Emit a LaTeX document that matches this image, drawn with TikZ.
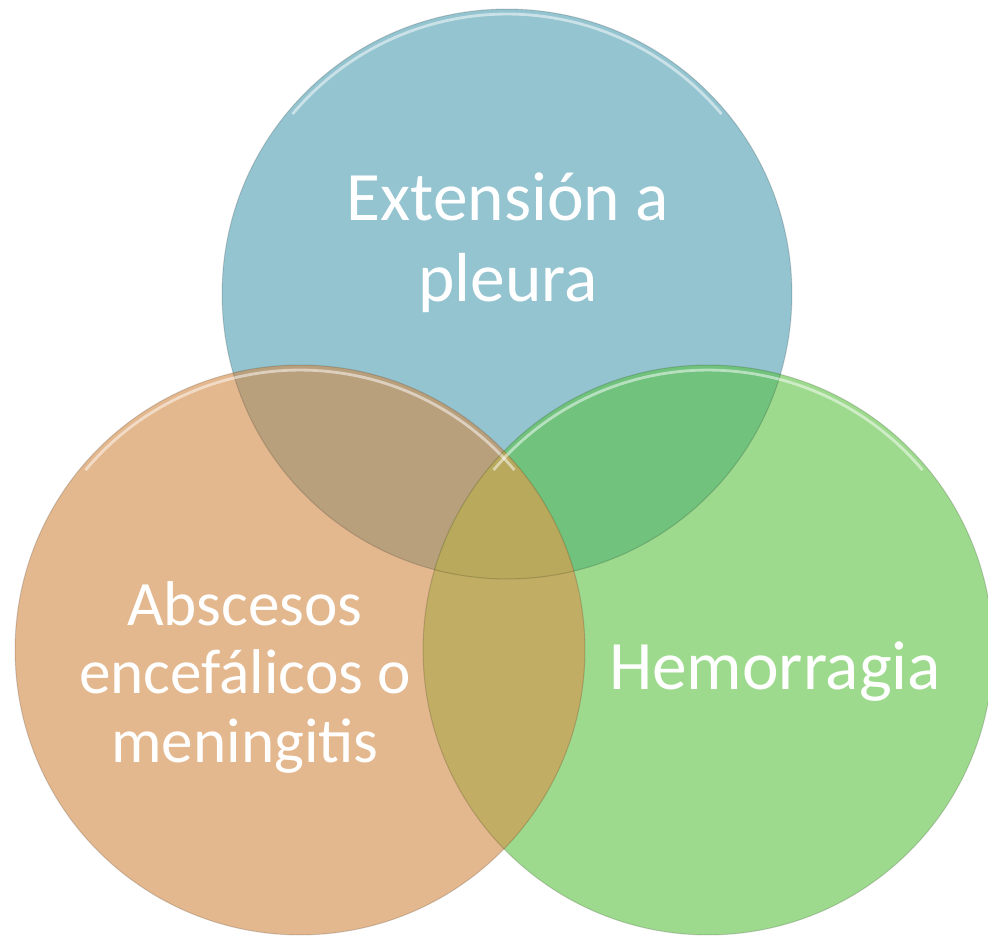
\documentclass[tikz,border=0pt]{standalone}
\usepackage{fontspec}
\setmainfont{Carlito}
\definecolor{pleuraBlue}{HTML}{93C4D0}
\definecolor{absOrange}{HTML}{E4B88E}
\definecolor{hemGreen}{HTML}{9EDA8E}
\definecolor{blueOrange}{HTML}{B9A07D}
\definecolor{blueGreen}{HTML}{70C27D}
\definecolor{orangeGreen}{HTML}{C1AD63}
\definecolor{allThree}{HTML}{B8A95C}
\tikzset{
  label text/.style={text=white, align=center},
  rim/.style={white, opacity=0.5, line width=1.6pt},
  edge line/.style={black, opacity=0.15, line width=0.6pt}
}
\newcommand{\rad}{5.7cm}
\begin{document}
\begin{tikzpicture}[x=0.02cm,y=-0.02cm]
\useasboundingbox (0,0) rectangle (988,936);
\coordinate (cblue) at (507,294);
\coordinate (corange) at (300,650);
\coordinate (cgreen) at (708,650);
% the three sets
\fill[pleuraBlue] (cblue) circle (\rad);
\fill[hemGreen] (cgreen) circle (\rad);
\fill[absOrange] (corange) circle (\rad);
% pairwise overlaps
\begin{scope}
  \clip (cblue) circle (\rad);
  \fill[blueOrange] (corange) circle (\rad);
  \fill[blueGreen] (cgreen) circle (\rad);
\end{scope}
\begin{scope}
  \clip (corange) circle (\rad);
  \fill[orangeGreen] (cgreen) circle (\rad);
\end{scope}
\begin{scope}
  \clip (cblue) circle (\rad);
  \clip (corange) circle (\rad);
  \fill[allThree] (cgreen) circle (\rad);
\end{scope}
% edges and glossy rims
\foreach \c in {cblue, corange, cgreen} {
  \draw[edge line] (\c) circle (\rad);
  \draw[rim] ([shift={(140:5.6cm)}]\c) arc (140:40:5.6cm);
}
\node[label text, font=\fontsize{39.5}{46}\selectfont] (pleura) at (508,243) {Extensión a\\pleura};
\node[label text, font=\fontsize{39.5}{46}\selectfont] (hemorragia) at (775,672) {Hemorragia};
\node[label text, font=\fontsize{36}{39}\selectfont] (abscesos) at (245,677) {Abscesos\\encefálicos o\\meningitis};
\end{tikzpicture}
\end{document}
